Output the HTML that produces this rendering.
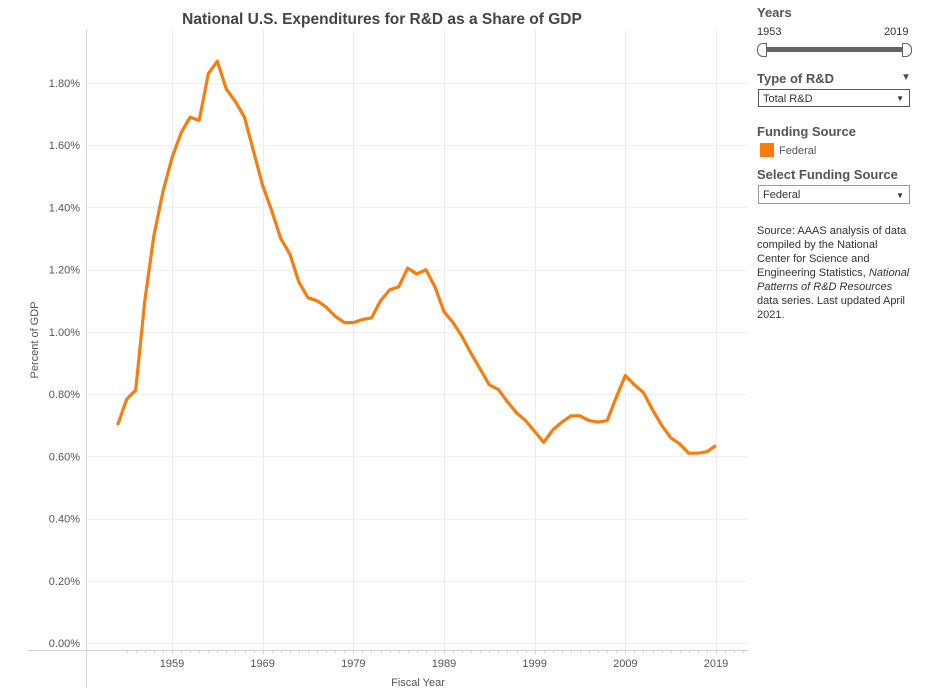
<!DOCTYPE html>
<html><head><meta charset="utf-8"><style>
body{margin:0;width:931px;height:700px;background:#fff;font-family:"Liberation Sans",Arial,sans-serif;overflow:hidden;position:relative}
.side{position:absolute;left:757px;color:#555}
</style></head><body>
<svg width="931" height="700" style="position:absolute;left:0;top:0">
<text x="382" y="24" text-anchor="middle" font-size="15.5" font-weight="bold" fill="#444">National U.S. Expenditures for R&amp;D as a Share of GDP</text>
<g id="grid"></g>
<line x1="86.5" y1="30" x2="86.5" y2="688" stroke="#d4d4d4"/>
<line x1="28" y1="650.5" x2="748" y2="650.5" stroke="#d4d4d4"/>
<g id="ticks"></g>
<text x="38" y="340" transform="rotate(-90 38 340)" text-anchor="middle" font-size="11" fill="#555">Percent of GDP</text>
<text x="418" y="686" text-anchor="middle" font-size="11" fill="#555">Fiscal Year</text>
<path id="line" fill="none" stroke="#f67d10" stroke-width="3.2" stroke-linejoin="round"/>
</svg>
<div class="side" style="top:5px;font-size:13px;font-weight:bold">Years</div>
<div class="side" style="top:26px;font-size:11px;color:#333">1953</div>
<div class="side" style="top:26px;left:884px;font-size:11px;color:#333">2019</div>
<div style="position:absolute;left:762px;top:47px;width:144px;height:5px;background:#666"></div>
<div style="position:absolute;left:757px;top:43px;width:8px;height:12px;border:1px solid #666;border-radius:6px 0 0 6px;background:#fff"></div>
<div style="position:absolute;left:902px;top:43px;width:8px;height:12px;border:1px solid #666;border-radius:0 6px 6px 0;background:#fff"></div>
<div class="side" style="top:71px;font-size:13px;font-weight:bold">Type of R&amp;D</div>
<div class="side" style="top:72px;left:901px;font-size:10px">▼</div>
<div style="position:absolute;left:758px;top:89px;width:152px;height:18px;border:1px solid #555;font-size:11px;color:#333;line-height:18px;box-sizing:border-box;padding-left:4px">Total R&amp;D<span style="position:absolute;right:5px;font-size:8px">▼</span></div>
<div class="side" style="top:124px;font-size:13px;font-weight:bold">Funding Source</div>
<div style="position:absolute;left:760px;top:143px;width:14px;height:14px;background:#f67d10"></div>
<div class="side" style="top:145px;left:779px;font-size:11px">Federal</div>
<div class="side" style="top:167px;font-size:13px;font-weight:bold">Select Funding Source</div>
<div style="position:absolute;left:758px;top:185px;width:152px;height:19px;border:1px solid #999;font-size:11px;color:#333;line-height:19px;box-sizing:border-box;padding-left:4px">Federal<span style="position:absolute;right:5px;font-size:8px">▼</span></div>
<div class="side" style="top:224px;width:153px;font-size:11px;line-height:14px;color:#333">Source: AAAS analysis of data compiled by the National Center for Science and Engineering Statistics, <i>National Patterns of R&amp;D Resources</i> data series. Last updated April 2021.</div>
<script>
const years=[];for(let y=1953;y<=2019;y++)years.push(y);
const values=[0.70,0.784,0.813,1.10,1.31,1.45,1.56,1.64,1.69,1.68,1.83,1.87,1.78,1.74,1.69,1.58,1.47,1.39,1.30,1.25,1.16,1.11,1.10,1.08,1.05,1.03,1.03,1.04,1.045,1.10,1.135,1.145,1.205,1.186,1.20,1.145,1.065,1.03,0.985,0.93,0.88,0.83,0.815,0.775,0.74,0.715,0.68,0.645,0.685,0.71,0.73,0.73,0.715,0.71,0.715,0.79,0.86,0.83,0.805,0.75,0.70,0.66,0.64,0.61,0.61,0.615,0.635];
const yTicks=[0,0.2,0.4,0.6,0.8,1.0,1.2,1.4,1.6,1.8];
const xTicks=[1959,1969,1979,1989,1999,2009,2019];
const X=y=>172+(y-1959)*544/60, Y=v=>643-v*311.1;
const ns="http://www.w3.org/2000/svg";
const g=document.getElementById('grid'),t=document.getElementById('ticks');
yTicks.forEach(v=>{
 const l=document.createElementNS(ns,'line');l.setAttribute('x1',87);l.setAttribute('x2',748);l.setAttribute('y1',Math.round(Y(v))+.5);l.setAttribute('y2',Math.round(Y(v))+.5);l.setAttribute('stroke','#efefef');
 
 
 g.appendChild(l);
 const s=document.createElementNS(ns,'text');s.setAttribute('x',80);s.setAttribute('y',Y(v)+4);s.setAttribute('text-anchor','end');s.setAttribute('font-size','11');s.setAttribute('fill','#555');s.textContent=v.toFixed(2)+'%';
 
 
 t.appendChild(s);
});
xTicks.forEach(y=>{
 const l=document.createElementNS(ns,'line');l.setAttribute('x1',Math.round(X(y))+.5);l.setAttribute('x2',Math.round(X(y))+.5);l.setAttribute('y1',30);l.setAttribute('y2',655);l.setAttribute('stroke','#ececec');
 
 
 g.appendChild(l);
 const s=document.createElementNS(ns,'text');s.setAttribute('x',X(y));s.setAttribute('y',667);s.setAttribute('text-anchor','middle');s.setAttribute('font-size','11');s.setAttribute('fill','#555');s.textContent=y;
 
 
 t.appendChild(s);
});
for(let y=1954;y<=2022;y++){
 const l=document.createElementNS(ns,'line');const x=Math.round(X(y))+.5;l.setAttribute('x1',x);l.setAttribute('x2',x);l.setAttribute('y1',651);l.setAttribute('y2',653);l.setAttribute('stroke','#ccc');
 
 
 t.appendChild(l);
}
document.getElementById('line').setAttribute('d',values.map((v,i)=>(i?'L':'M')+X(years[i]).toFixed(1)+','+Y(v).toFixed(1)).join(''));
</script>
</body></html>
